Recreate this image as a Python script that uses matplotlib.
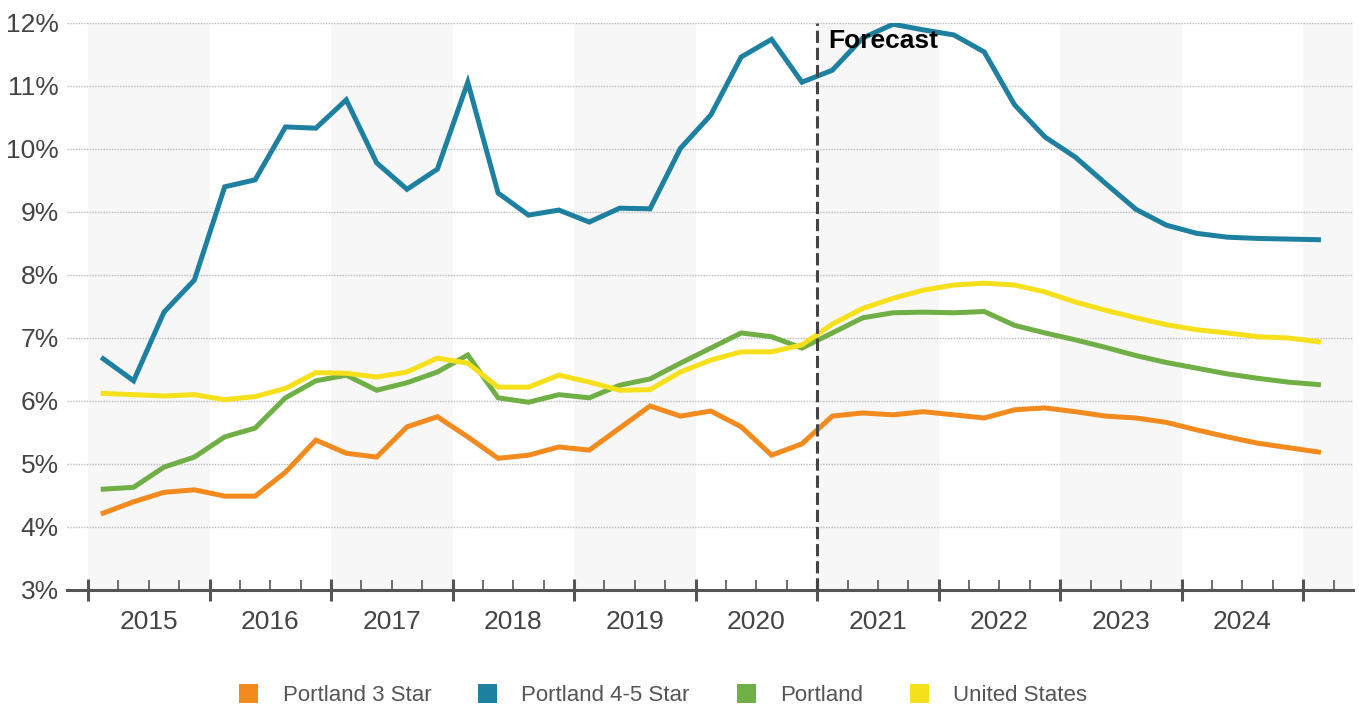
import numpy as np
import matplotlib.pyplot as plt
from matplotlib.patches import Patch
from matplotlib.ticker import FixedLocator, NullFormatter

plt.rcParams['font.family'] = ['Liberation Sans', 'DejaVu Sans']

# quarterly periods, 2015 Q1 .. 2025 Q1
quarters = [(y, q) for y in range(2015, 2026) for q in range(1, 5)][:41]
year_labels = [str(y) for y in range(2015, 2025)]

star_3 = [4.22, 4.40, 4.55, 4.59, 4.49, 4.49, 4.87, 5.38, 5.17, 5.11, 5.59, 5.75,
          5.43, 5.09, 5.14, 5.27, 5.22, 5.57, 5.92, 5.76, 5.84, 5.59, 5.14, 5.32,
          5.76, 5.81, 5.78, 5.83, 5.78, 5.73, 5.86, 5.89, 5.83, 5.76, 5.73, 5.66,
          5.54, 5.43, 5.33, 5.26, 5.19]
star_45 = [6.67, 6.32, 7.41, 7.92, 9.40, 9.51, 10.35, 10.33, 10.78, 9.78, 9.36, 9.68,
           11.06, 9.30, 8.95, 9.03, 8.84, 9.06, 9.05, 10.01, 10.54, 11.46, 11.74, 11.06,
           11.25, 11.76, 11.98, 11.89, 11.81, 11.54, 10.70, 10.19, 9.87, 9.45, 9.04, 8.79,
           8.66, 8.60, 8.58, 8.57, 8.56]
portland = [4.60, 4.63, 4.95, 5.11, 5.43, 5.57, 6.05, 6.32, 6.41, 6.17, 6.29, 6.46,
            6.73, 6.05, 5.98, 6.10, 6.05, 6.25, 6.35, 6.60, 6.84, 7.08, 7.02, 6.84,
            7.08, 7.32, 7.40, 7.41, 7.40, 7.42, 7.20, 7.08, 6.97, 6.85, 6.72, 6.61,
            6.52, 6.43, 6.36, 6.30, 6.26]
usa = [6.12, 6.10, 6.08, 6.10, 6.02, 6.07, 6.20, 6.45, 6.44, 6.38, 6.46, 6.68,
       6.60, 6.22, 6.22, 6.41, 6.30, 6.17, 6.18, 6.46, 6.65, 6.78, 6.78, 6.89,
       7.22, 7.47, 7.63, 7.76, 7.84, 7.87, 7.84, 7.73, 7.57, 7.44, 7.32, 7.21,
       7.13, 7.08, 7.02, 7.00, 6.94]

series = [("Portland 3 Star", star_3, "#F28A1E"),
          ("Portland 4-5 Star", star_45, "#1E80A1"),
          ("Portland", portland, "#6FAF45"),
          ("United States", usa, "#F6E01C")]

forecast_start = 2021

x = np.array([y + (q - 1) * 0.25 + 0.125 for y, q in quarters])

fig = plt.figure(figsize=(13.59, 7.11), dpi=100)
ax = fig.add_axes([0.0493, 0.1702, 0.9463, 0.7975])

# alternating year bands
for y in range(2015, 2026):
    if y % 2 == 1:
        ax.axvspan(y, y + 1, color="#F7F7F7", lw=0, zorder=0)

for name, vals, col in [series[2], series[3], series[0], series[1]]:
    ax.plot(x, vals, color=col, lw=3.6, solid_joinstyle="miter", zorder=3)

ax.axvline(forecast_start, color="#444444", lw=2.2, ls=(0, (4, 1.6)), zorder=4)
ax.text(forecast_start + 0.09, 11.72, "Forecast", fontsize=19, fontweight="bold",
        color="black", va="center", ha="left", zorder=5)

ax.set_xlim(2014.827, 2025.41)
ax.set_ylim(3, 12)

yt = np.arange(3, 13)
ax.set_yticks(yt)
ax.set_yticklabels([f"{v}%" for v in yt], fontsize=19, color="#444444")
ax.tick_params(axis="y", length=0, pad=6)
for v in yt[1:]:
    ax.axhline(v, color="#BBBBBB", lw=1.0, ls=(0, (1, 1)), zorder=1)

ax.xaxis.set_major_locator(FixedLocator(np.arange(2015, 2026)))
ax.xaxis.set_major_formatter(NullFormatter())
ax.xaxis.set_minor_locator(FixedLocator(np.arange(2015, 2025.3, 0.25)))
ax.tick_params(axis="x", which="major", direction="inout", length=16, width=2.2,
               color="#555555")
ax.tick_params(axis="x", which="minor", direction="in", length=7, width=1.2,
               color="#555555")
for i, lab in enumerate(year_labels):
    ax.text(2015 + i + 0.5, -0.036, lab, transform=ax.get_xaxis_transform(),
            ha="center", va="top", fontsize=19, color="#444444")

for s in ["left", "right", "top"]:
    ax.spines[s].set_visible(False)
ax.spines["bottom"].set_color("#555555")
ax.spines["bottom"].set_linewidth(2.2)

handles = [Patch(facecolor=c, edgecolor="none", label=n) for n, _, c in series]
leg = fig.legend(handles=handles, loc="center", bbox_to_anchor=(0.488, 0.022), ncol=4,
                 frameon=False, fontsize=16, handlelength=0.86, handleheight=0.9,
                 handletextpad=1.1, columnspacing=2.1)
for t in leg.get_texts():
    t.set_color("#555555")

fig.savefig("out.png", dpi=100)
